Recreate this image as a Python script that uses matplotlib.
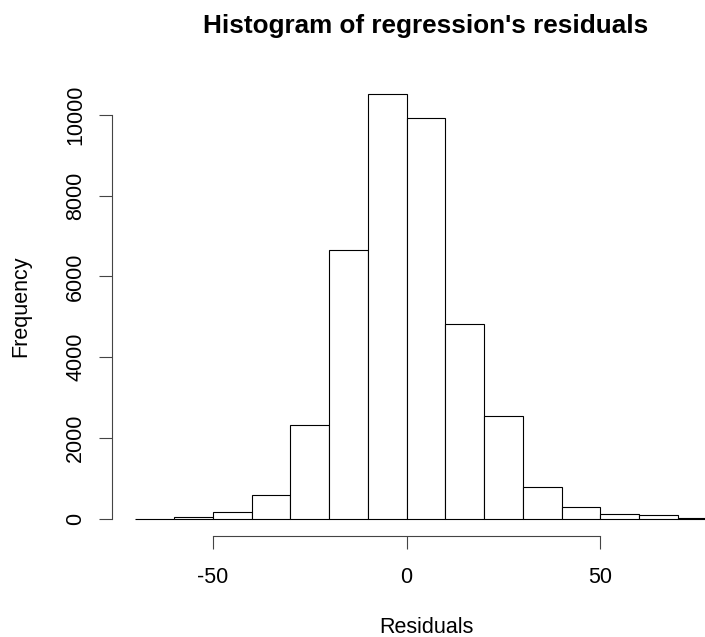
import numpy as np
import matplotlib.pyplot as plt

plt.rcParams['font.family'] = ['Liberation Sans', 'DejaVu Sans']
plt.rcParams['savefig.dpi'] = 100
plt.rcParams['figure.facecolor'] = 'white'

# residual histogram, bin width 10
breaks = np.arange(-70, 81, 10)
counts = [10, 40, 165, 587, 2335, 6654, 10512, 9911, 4815, 2557, 800, 305, 124, 100, 30]
xticks = [-50, 0, 50]
yticks = [0, 2000, 4000, 6000, 8000, 10000]

fig = plt.figure(figsize=(7.05, 6.37), dpi=100)
# plot region runs past the right edge, like the cropped R device
ax = fig.add_axes([0.1589, 0.1586, 0.8908, 0.7206])

ax.bar(breaks[:-1], counts, width=np.diff(breaks), align='edge',
       facecolor='white', edgecolor='black', linewidth=0.8)

# R style 4% padding around data range
xr = breaks[-1] - breaks[0]
ax.set_xlim(breaks[0] - 0.04 * xr, breaks[-1] + 0.04 * xr)
ymax = max(counts)
ax.set_ylim(-0.04 * ymax, 1.04 * ymax)

for s in ['top', 'right']:
    ax.spines[s].set_visible(False)
ax.spines['bottom'].set_bounds(xticks[0], xticks[-1])
ax.spines['left'].set_bounds(yticks[0], yticks[-1])
for s in ['bottom', 'left']:
    ax.spines[s].set_linewidth(0.8)
    ax.spines[s].set_color('#444444')

ax.set_xticks(xticks)
ax.set_xticklabels([str(t) for t in xticks])
ax.set_yticks(yticks)
ax.set_yticklabels([str(t) for t in yticks])
ax.tick_params(axis='both', direction='out', length=9.5, width=0.8,
               color='#444444', labelsize=15.5)
ax.tick_params(axis='x', pad=13)
ax.tick_params(axis='y', pad=9, labelrotation=90)
for lab in ax.get_yticklabels():
    lab.set_va('center')

ax.set_xlabel('Residuals', fontsize=15.5)
ax.xaxis.set_label_coords(0.5, -0.176)
ax.set_ylabel('Frequency', fontsize=15.5)
ax.yaxis.set_label_coords(-0.129, 0.5)
ax.set_title("Histogram of regression's residuals", fontsize=18.8,
             fontweight='bold', pad=32)

fig.savefig('out.png')
